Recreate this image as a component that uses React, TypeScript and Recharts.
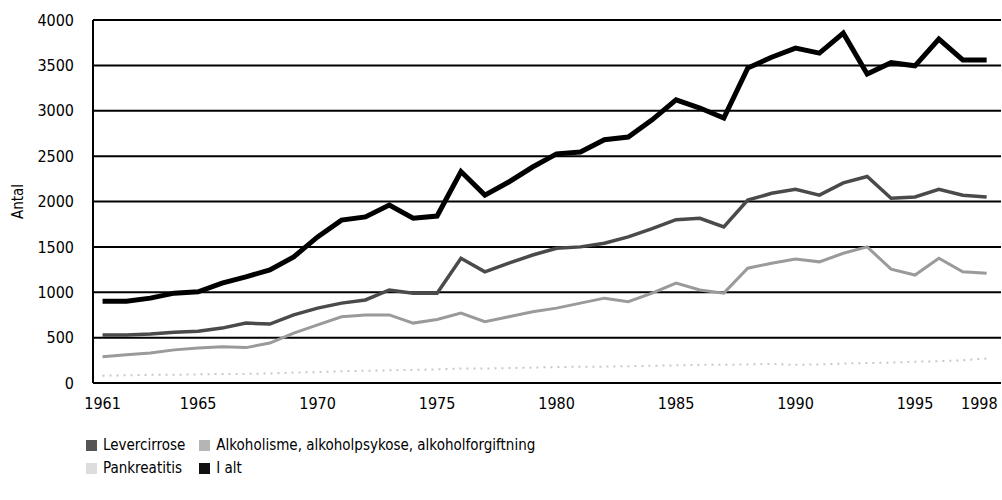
import { CartesianGrid, Line, LineChart, XAxis, YAxis } from "recharts";

const years = [
  1961, 1962, 1963, 1964, 1965, 1966, 1967, 1968, 1969, 1970, 1971, 1972, 1973,
  1974, 1975, 1976, 1977, 1978, 1979, 1980, 1981, 1982, 1983, 1984, 1985, 1986,
  1987, 1988, 1989, 1990, 1991, 1992, 1993, 1994, 1995, 1996, 1997, 1998,
];

const levercirrose = [
  530, 530, 540, 560, 570, 605, 660, 650, 750, 825, 880, 915, 1025, 990, 990,
  1375, 1225, 1320, 1410, 1485, 1500, 1540, 1610, 1700, 1800, 1815, 1720, 2015,
  2090, 2135, 2070, 2205, 2275, 2035, 2050, 2135, 2070, 2050,
];

const alkoholisme = [
  290, 310, 330, 365, 385, 400, 390, 440, 550, 640, 730, 750, 750, 660, 700,
  770, 675, 730, 785, 825, 880, 935, 895, 990, 1100, 1025, 990, 1265, 1320,
  1365, 1335, 1430, 1500, 1255, 1190, 1375, 1225, 1210,
];

const pankreatitis = [
  80, 85, 90, 90, 95, 100, 100, 105, 115, 120, 130, 135, 140, 145, 150, 160,
  160, 165, 170, 175, 180, 180, 185, 190, 195, 200, 200, 205, 210, 200, 205,
  215, 220, 225, 235, 240, 250, 270,
];

const ialt = [
  900, 900, 935, 990, 1005, 1100, 1170, 1245, 1390, 1610, 1795, 1830, 1960,
  1815, 1840, 2330, 2070, 2215, 2380, 2525, 2545, 2680, 2710, 2900, 3120, 3030,
  2920, 3470, 3590, 3690, 3635, 3855, 3405, 3530, 3495, 3790, 3560, 3560,
];

const xTicks = [1961, 1965, 1970, 1975, 1980, 1985, 1990, 1995, 1998];
const yTicks = [0, 500, 1000, 1500, 2000, 2500, 3000, 3500, 4000];

const data = years.map((year, i) => ({
  year,
  levercirrose: levercirrose[i],
  alkoholisme: alkoholisme[i],
  pankreatitis: pankreatitis[i],
  ialt: ialt[i],
}));

const font = "'DejaVu Sans Condensed', 'DejaVu Sans', sans-serif";

const legendItems = [
  { name: "Levercirrose", color: "#555555" },
  { name: "Alkoholisme, alkoholpsykose, alkoholforgiftning", color: "#b5b5b5" },
  { name: "Pankreatitis", color: "#dddddd" },
  { name: "I alt", color: "#111111" },
];

// last year label sits against the right edge, so pull it in a bit
function YearTick(props: any) {
  const { x, y, payload } = props;
  const last = payload.value === xTicks[xTicks.length - 1];
  return (
    <text
      x={last ? x + 11 : x}
      y={y}
      dy={12}
      textAnchor={last ? "end" : "middle"}
      fill="#000"
      fontSize={16}
      fontFamily={font}
    >
      {payload.value}
    </text>
  );
}

export default function App() {
  return (
    <div
      style={{
        position: "absolute",
        left: 0,
        top: 0,
        width: 1002,
        height: 500,
        background: "#fff",
        fontFamily: font,
      }}
    >
      <LineChart
        width={1002}
        height={420}
        data={data}
        margin={{ top: 20, right: 1, left: 0, bottom: 0 }}
      >
        <CartesianGrid vertical={false} stroke="#000" strokeWidth={2} />
        <XAxis
          dataKey="year"
          type="number"
          domain={[1960.6, 1998.6]}
          ticks={xTicks}
          interval={0}
          height={37}
          tickLine={false}
          tickMargin={8}
          axisLine={{ stroke: "#000", strokeWidth: 2 }}
          tick={<YearTick />}
        />
        <YAxis
          domain={[0, 4000]}
          ticks={yTicks}
          interval={0}
          width={93}
          tickLine={false}
          tickMargin={13}
          axisLine={{ stroke: "#000", strokeWidth: 2 }}
          tick={{ fill: "#000", fontSize: 16, fontFamily: font }}
          label={{
            value: "Antal",
            angle: -90,
            position: "insideLeft",
            offset: 18,
            style: { fill: "#000", fontSize: 15, fontFamily: font, textAnchor: "middle" },
          }}
        />
        <Line
          dataKey="pankreatitis"
          stroke="#c8c8c8"
          strokeWidth={2}
          strokeDasharray="2 5"
          dot={false}
          isAnimationActive={false}
        />
        <Line
          dataKey="alkoholisme"
          stroke="#9a9a9a"
          strokeWidth={3}
          dot={false}
          isAnimationActive={false}
        />
        <Line
          dataKey="levercirrose"
          stroke="#4a4a4a"
          strokeWidth={3.5}
          dot={false}
          isAnimationActive={false}
        />
        <Line
          dataKey="ialt"
          stroke="#000"
          strokeWidth={5}
          dot={false}
          isAnimationActive={false}
        />
      </LineChart>
      <div
        style={{
          position: "absolute",
          left: 86,
          top: 436,
          display: "grid",
          gridTemplateColumns: "auto auto",
          columnGap: 14,
          rowGap: 5,
          fontSize: 15,
          color: "#000",
        }}
      >
        {legendItems.map((item) => (
          <div key={item.name} style={{ display: "flex", alignItems: "center" }}>
            <span
              style={{
                display: "inline-block",
                flexShrink: 0,
                width: 11,
                height: 11,
                background: item.color,
                marginRight: 6,
              }}
            />
            {item.name}
          </div>
        ))}
      </div>
    </div>
  );
}
